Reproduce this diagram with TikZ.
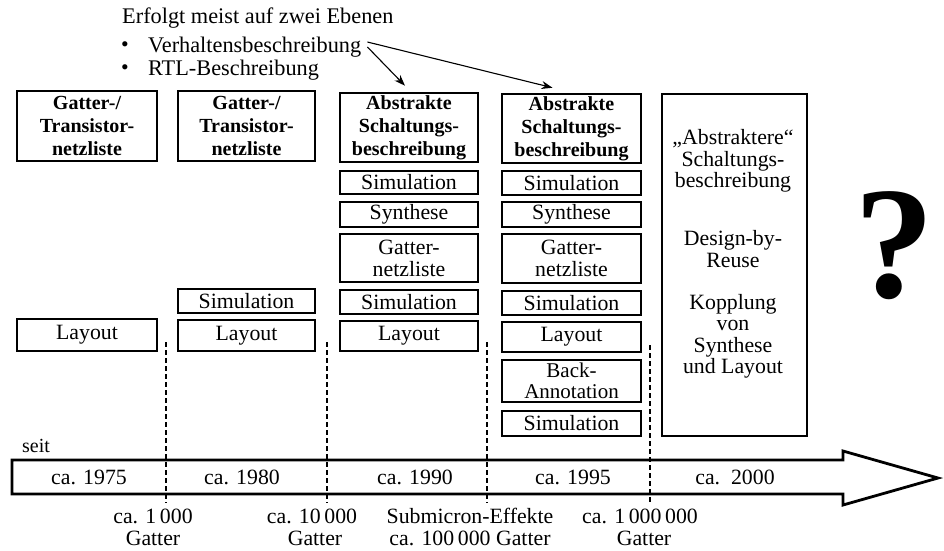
\documentclass[tikz,border=0pt]{standalone}
\usepackage{fontspec}
\setmainfont{Liberation Serif}
\usetikzlibrary{arrows.meta}
\tikzset{
 hbox/.style={draw, line width=2.6pt, fill=white, inner sep=0pt, align=center, font=\fontsize{20}{23}\selectfont\bfseries},
 sbox/.style={draw, line width=2.2pt, fill=white, inner sep=0pt, align=center, font=\fontsize{21.8}{22}\selectfont},
 txt/.style={inner sep=0pt, align=center, font=\fontsize{21.8}{22}\selectfont},
 sep/.style={dash pattern=on 5pt off 3pt, line width=1.1pt},
 pointer/.style={-{Stealth[length=11pt,width=8pt]}, line width=1.1pt},
}
\begin{document}
\begin{tikzpicture}[x=1pt,y=-1pt]
\useasboundingbox[fill=white] (0,0) rectangle (944,550);

% heading
\node[txt, anchor=west, font=\fontsize{22.3}{22}\selectfont] (head) at (122,18) {Erfolgt meist auf zwei Ebenen};
\node[txt] (b1) at (125,47) {\textbullet};
\node[txt] (b2) at (125,70) {\textbullet};
\node[txt, anchor=west, font=\fontsize{22.3}{22}\selectfont] (verh) at (148,47) {Verhaltensbeschreibung};
\node[txt, anchor=west, font=\fontsize{22.3}{22}\selectfont] (rtl) at (148,70) {RTL-Beschreibung};

% column 1
\node[hbox, minimum width=140pt, minimum height=70pt] (c1top) at (87,126) {Gatter-/\\Transistor-\\netzliste};
\node[sbox, minimum width=140pt, minimum height=32pt] (c1lay) at (87,335) {Layout};

% column 2
\node[hbox, minimum width=137pt, minimum height=70pt] (c2top) at (246.5,126) {Gatter-/\\Transistor-\\netzliste};
\node[sbox, minimum width=137pt, minimum height=24pt] (c2sim) at (246.5,301) {Simulation};
\node[sbox, minimum width=137pt, minimum height=31pt] (c2lay) at (246.5,335.5) {Layout};

% column 3
\node[hbox, minimum width=138pt, minimum height=69pt] (c3top) at (409,127.5) {Abstrakte\\Schaltungs-\\beschreibung};
\node[sbox, minimum width=138pt, minimum height=23pt] (c3sim1) at (409,182.5) {Simulation};
\node[sbox, minimum width=138pt, minimum height=25pt] (c3syn) at (409,214.5) {Synthese};
\node[sbox, minimum width=138pt, minimum height=48pt] (c3gat) at (409,258) {Gatter-\\netzliste};
\node[sbox, minimum width=138pt, minimum height=24pt] (c3sim2) at (409,302) {Simulation};
\node[sbox, minimum width=138pt, minimum height=30pt] (c3lay) at (409,336) {Layout};

% column 4
\node[hbox, minimum width=139pt, minimum height=69pt] (c4top) at (571.5,128.5) {Abstrakte\\Schaltungs-\\beschreibung};
\node[sbox, minimum width=139pt, minimum height=24pt] (c4sim1) at (571.5,183) {Simulation};
\node[sbox, minimum width=139pt, minimum height=25pt] (c4syn) at (571.5,214.5) {Synthese};
\node[sbox, minimum width=139pt, minimum height=49pt] (c4gat) at (571.5,258.5) {Gatter-\\netzliste};
\node[sbox, minimum width=139pt, minimum height=24pt] (c4sim2) at (571.5,303) {Simulation};
\node[sbox, minimum width=139pt, minimum height=30pt] (c4lay) at (571.5,337) {Layout};
\node[sbox, minimum width=139pt, minimum height=42pt, font=\fontsize{21}{21}\selectfont] (c4back) at (571.5,381) {Back-\\Annotation};
\node[sbox, minimum width=139pt, minimum height=25pt] (c4sim3) at (571.5,423.5) {Simulation};

% column 5
\node[draw, line width=2.6pt, minimum width=145pt, minimum height=342pt, inner sep=0pt] (c5) at (734.5,265) {};
\node[txt, font=\fontsize{21.8}{21.5}\selectfont] (c5a) at (733,161) {„Abstraktere“\\Schaltungs-\\beschreibung};
\node[txt, font=\fontsize{21.8}{21.5}\selectfont] (c5b) at (733,249) {Design-by-\\Reuse};
\node[txt, font=\fontsize{21.8}{21.5}\selectfont] (c5c) at (733,336.5) {Kopplung\\von\\Synthese\\und Layout};

% question mark
\node[inner sep=0pt, font=\fontsize{160}{160}\selectfont\bfseries] (qm) at (894,246) {?};

% pointers
\draw[pointer] ([xshift=6pt,yshift=0pt]verh.east) -- ([xshift=-4pt,yshift=6pt]c3top.north);
\draw[pointer] ([xshift=6pt,yshift=5pt]verh.east) -- ([xshift=-19pt,yshift=5pt]c4top.north);

% time arrow
\draw[line width=2.8pt, fill=white] (12,460) -- (843,460) -- (843,451) -- (938,478) -- (843,505) -- (843,494) -- (12,494) -- cycle;
\node[txt, font=\fontsize{20}{22}\selectfont] (seit) at (36,446) {seit};
\node[txt] (y75) at (89,477) {ca. 1975};
\node[txt] (y80) at (242,477) {ca. 1980};
\node[txt] (y90) at (415,477) {ca. 1990};
\node[txt] (y95) at (573,477) {ca. 1995};
\node[txt] (y00) at (735,477) {ca.\ \ 2000};

% separators
\coordinate (d1a) at (166,342); \coordinate (d1b) at (166,503);
\coordinate (d2a) at (327,342); \coordinate (d2b) at (327,503);
\coordinate (d3a) at (487,342); \coordinate (d3b) at (487,503);
\coordinate (d4a) at (650,345); \coordinate (d4b) at (650,503);
\draw[sep] (d1a) -- (d1b);
\draw[sep] (d2a) -- (d2b);
\draw[sep] (d3a) -- (d3b);
\draw[sep] (d4a) -- (d4b);

% bottom labels
\node[txt] (g1) at (153,527) {ca. 1\,000\\Gatter};
\node[txt] (g2) at (312,527) {ca. 10\,000\\\hspace*{6pt}Gatter};
\node[txt] (g3) at (470,527) {Submicron-Effekte\\ca. 100\,000 Gatter};
\node[txt] (g4) at (640,527) {ca. 1\,000\,000\\\hspace*{8pt}Gatter};
\end{tikzpicture}
\end{document}
